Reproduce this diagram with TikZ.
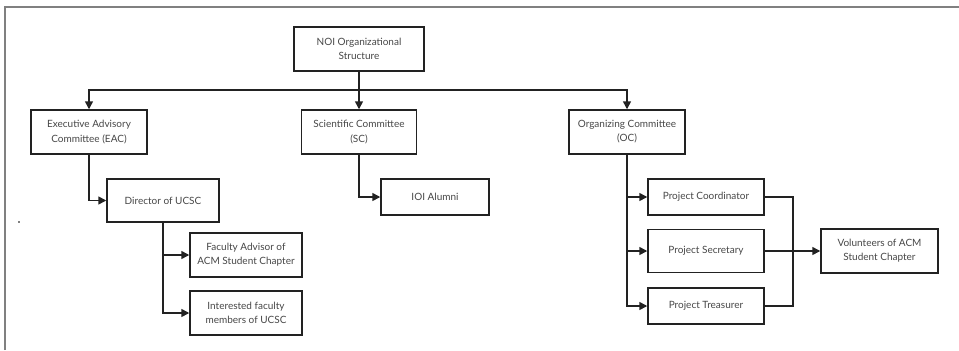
\documentclass[tikz,border=0pt]{standalone}
\usepackage{fontspec}
\setmainfont{Lato}
\usetikzlibrary{arrows.meta}
\definecolor{txt}{HTML}{474747}
\definecolor{frm}{HTML}{808080}
\definecolor{edge}{HTML}{222222}
\tikzset{
  box/.style={draw=edge, line width=1.1pt, fill=white, inner sep=0pt, align=center,
    text=txt, font=\fontsize{7.5}{10.6}\selectfont},
  arr/.style={draw=edge, line width=1.1pt, -{Triangle[length=6pt,width=6pt]}},
  ln/.style={draw=edge, line width=1.1pt},
}
\newcommand{\bx}[5]{\node[box, minimum width=#3*0.75pt, minimum height=#4*0.75pt] (#1) at #2 {#5};}
\begin{document}
\begin{tikzpicture}[x=0.75pt,y=-0.75pt]
\useasboundingbox (0,0) rectangle (959,350);
\fill[white] (0,0) rectangle (959,350);
\draw[frm, line width=0.9pt] (5,350) -- (5,7) -- (959,7);
\fill[frm] (18,221) rectangle (20,223);

\bx{noi}{(359,49)}{130}{44}{NOI Organizational\\Structure}
\bx{eac}{(89,132)}{116}{44}{Executive Advisory\\Committee (EAC)}
\bx{sc}{(359,132)}{115}{44}{Scientific Committee\\(SC)}
\bx{oc}{(627,132)}{116}{44}{Organizing Committee\\(OC)}
\bx{dir}{(163,200.5)}{112}{43}{Director of UCSC}
\bx{fa}{(246,255)}{112}{44}{Faculty Advisor of\\ACM Student Chapter}
\bx{int}{(246,313)}{112}{44}{Interested faculty\\members of UCSC}
\bx{ioi}{(435,197)}{108}{36}{IOI Alumni}
\bx{pc}{(706,197)}{116}{36}{Project Coordinator}
\bx{ps}{(706,251)}{116}{43}{Project Secretary}
\bx{pt}{(706,306)}{116}{36}{Project Treasurer}
\bx{vol}{(879.5,251)}{117}{44}{Volunteers of ACM\\Student Chapter}

\coordinate (bus) at (359,90);
\coordinate (rb) at (793,251);

\draw[arr] (noi.south) -- (sc.north);
\draw[arr] (bus) -| (eac.north);
\draw[arr] (bus) -| (oc.north);
\draw[arr] (eac.south) |- (dir.west);
\draw[arr] (dir.south) |- (fa.west);
\draw[arr] (dir.south) |- (int.west);
\draw[arr] (sc.south) |- (ioi.west);
\draw[arr] (oc.south) |- (pc.west);
\draw[arr] (oc.south) |- (ps.west);
\draw[arr] (oc.south) |- (pt.west);
\draw[ln] (pc.east) -| (rb) |- (pt.east);
\draw[arr] (ps.east) -- (vol.west);
\end{tikzpicture}
\end{document}
